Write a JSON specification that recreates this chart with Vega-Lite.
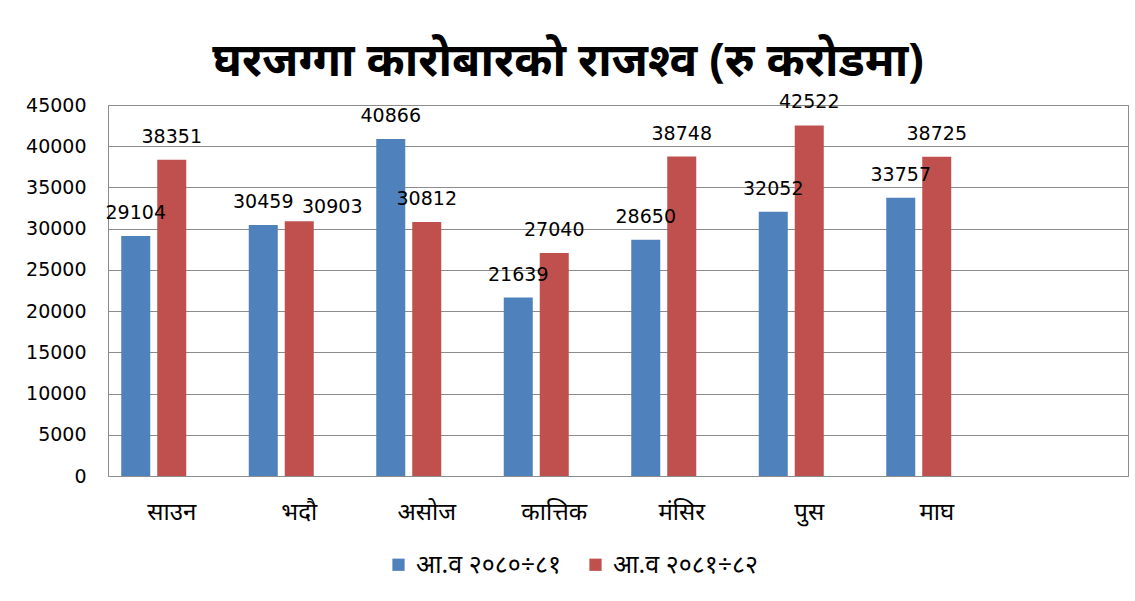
{
  "$schema": "https://vega.github.io/schema/vega-lite/v6.json",
  "autosize": "none",
  "width": 1020,
  "height": 371,
  "padding": {"left": 108, "top": 105, "right": 7, "bottom": 125},
  "background": "white",
  "title": {
    "text": "घरजग्गा कारोबारको राजश्व (रु करोडमा)",
    "fontSize": 46,
    "fontWeight": "bold",
    "font": "Noto Sans",
    "color": "black",
    "anchor": "middle",
    "frame": "group",
    "dx": -50,
    "offset": 7
  },
  "data": {
    "values": [
      {"month": "साउन", "series": "आ.व २०८०÷८१", "value": 29104},
      {"month": "साउन", "series": "आ.व २०८१÷८२", "value": 38351},
      {"month": "भदौ", "series": "आ.व २०८०÷८१", "value": 30459},
      {"month": "भदौ", "series": "आ.व २०८१÷८२", "value": 30903},
      {"month": "असोज", "series": "आ.व २०८०÷८१", "value": 40866},
      {"month": "असोज", "series": "आ.व २०८१÷८२", "value": 30812},
      {"month": "कात्तिक", "series": "आ.व २०८०÷८१", "value": 21639},
      {"month": "कात्तिक", "series": "आ.व २०८१÷८२", "value": 27040},
      {"month": "मंसिर", "series": "आ.व २०८०÷८१", "value": 28650},
      {"month": "मंसिर", "series": "आ.व २०८१÷८२", "value": 38748},
      {"month": "पुस", "series": "आ.व २०८०÷८१", "value": 32052},
      {"month": "पुस", "series": "आ.व २०८१÷८२", "value": 42522},
      {"month": "माघ", "series": "आ.व २०८०÷८१", "value": 33757},
      {"month": "माघ", "series": "आ.व २०८१÷८२", "value": 38725}
    ]
  },
  "encoding": {
    "x": {
      "field": "month",
      "type": "nominal",
      "sort": null,
      "scale": {"domain": ["साउन", "भदौ", "असोज", "कात्तिक", "मंसिर", "पुस", "माघ", " "], "paddingInner": 0, "paddingOuter": 0},
      "axis": {
        "title": null,
        "labelAngle": 0,
        "labelFontSize": 24,
        "labelFont": "Noto Sans",
        "labelColor": "black",
        "labelPadding": 24,
        "ticks": false,
        "domain": false,
        "grid": false
      }
    },
    "xOffset": {
      "field": "series",
      "type": "nominal",
      "scale": {"domain": ["आ.व २०८०÷८१", "आ.व २०८१÷८२", "_"], "paddingInner": 0.194, "paddingOuter": 0.368}
    },
    "y": {
      "field": "value",
      "type": "quantitative",
      "scale": {"domain": [0, 45000], "nice": false},
      "axis": {
        "title": null,
        "values": [0, 5000, 10000, 15000, 20000, 25000, 30000, 35000, 40000, 45000],
        "format": "d",
        "labelFontSize": 19,
        "labelFont": "DejaVu Sans",
        "labelColor": "black",
        "labelPadding": 22,
        "ticks": false,
        "domain": false,
        "gridColor": "#8c8c8c",
        "gridOpacity": 1,
        "gridWidth": 1
      }
    }
  },
  "layer": [
    {
      "mark": {"type": "bar"},
      "encoding": {
        "color": {
          "field": "series",
          "type": "nominal",
          "scale": {"domain": ["आ.व २०८०÷८१", "आ.व २०८१÷८२"], "range": ["#4F81BD", "#C0504D"]},
          "legend": {
            "title": null,
            "orient": "none",
            "direction": "horizontal",
            "legendX": 278,
            "legendY": 447,
            "symbolType": "square",
            "symbolSize": 150,
            "symbolOpacity": 1,
            "symbolStrokeWidth": 0,
            "labelFontSize": 25,
            "labelFont": "Noto Sans",
            "labelColor": "black",
            "labelOffset": 5,
            "columnPadding": 22,
            "labelLimit": 300
          }
        }
      }
    },
    {
      "transform": [{"filter": "!(datum.month === 'भदौ' && datum.series === 'आ.व २०८१÷८२')"}],
      "mark": {"type": "text", "fontSize": 19, "font": "DejaVu Sans", "color": "black", "baseline": "alphabetic", "dy": -17},
      "encoding": {"text": {"field": "value", "type": "quantitative", "format": "d"}}
    },
    {
      "transform": [{"filter": "datum.month === 'भदौ' && datum.series === 'आ.व २०८१÷८२'"}],
      "mark": {"type": "text", "fontSize": 19, "font": "DejaVu Sans", "color": "black", "baseline": "alphabetic", "dy": -8, "dx": 33},
      "encoding": {"text": {"field": "value", "type": "quantitative", "format": "d"}}
    }
  ],
  "config": {
    "view": {"stroke": "#8c8c8c", "strokeWidth": 1}
  }
}
